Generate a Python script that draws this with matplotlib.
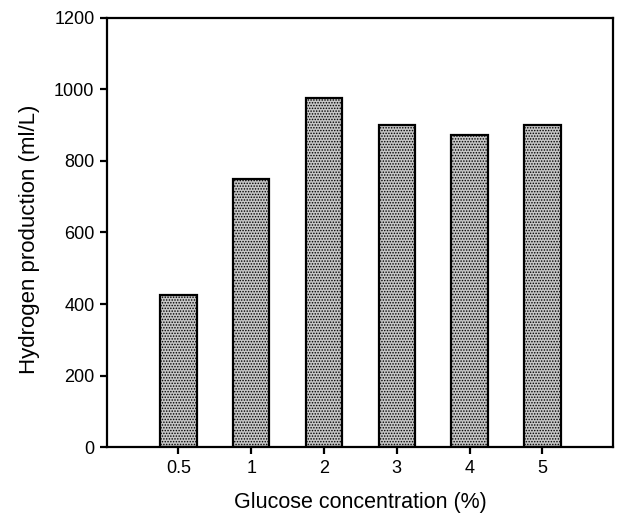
import numpy as np
import matplotlib.pyplot as plt

plt.rcParams["font.family"] = ["Liberation Sans", "DejaVu Sans"]
plt.rcParams["hatch.color"] = "#7a7a7a"
plt.rcParams["hatch.linewidth"] = 0.7

# data
concentrations = ["0.5", "1", "2", "3", "4", "5"]
hydrogen = [425, 750, 975, 900, 873, 900]

fig = plt.figure(figsize=(6.17, 5.23), dpi=100)
ax = fig.add_axes([0.1734, 0.1453, 0.8201, 0.8203])

xpos = np.arange(len(concentrations))
ax.bar(xpos, hydrogen, width=0.5, color="#c6c6c6", edgecolor="black",
       linewidth=1.6, hatch="......")

ax.set_xlim(-0.98, 5.97)
ax.set_ylim(0, 1200)
ax.set_xticks(xpos)
ax.set_xticklabels(concentrations)
ax.set_yticks(np.arange(0, 1201, 200))

for s in ax.spines.values():
    s.set_linewidth(1.6)
ax.tick_params(direction="out", length=5, width=1.6, labelsize=13, pad=4)

ax.set_xlabel("Glucose concentration (%)", fontsize=15.5, labelpad=11)
ax.set_ylabel("Hydrogen production (ml/L)", fontsize=16)
ax.yaxis.set_label_coords(-0.132, 0.484)

fig.savefig("out.png", dpi=100)
